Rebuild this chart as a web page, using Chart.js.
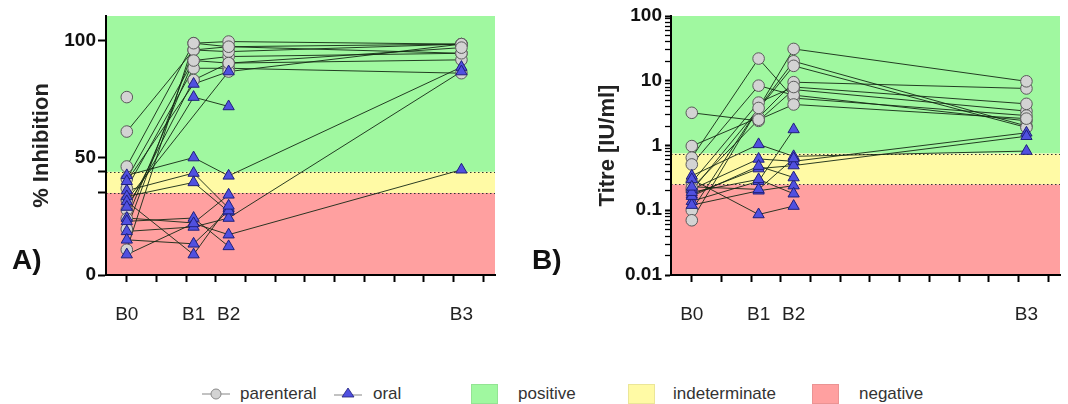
<!DOCTYPE html>
<html>
<head>
<meta charset="utf-8">
<script src="https://cdn.jsdelivr.net/npm/chart.js@4.4.1/dist/chart.umd.min.js"></script>
<style>
  body { margin: 0; background: #fff; font-family: "Liberation Sans", Arial, sans-serif; }
  #wrap { position: relative; width: 1068px; height: 404px; overflow: hidden; }
  canvas { position: absolute; top: 0; }
  .panel { position: absolute; font-weight: bold; font-size: 28px; color: #111; }
  .leg { position: absolute; top: 383px; font-size: 17px; color: #333; line-height: 22px; }
  .box { position: absolute; top: 384px; width: 27px; height: 20px; box-sizing: border-box; border: 1px solid rgba(0,0,0,0.08); }
  svg { position: absolute; }
</style>
</head>
<body>
<div id="wrap">
  <canvas id="chartA" width="510" height="345" style="left:0"></canvas>
  <canvas id="chartB" width="538" height="345" style="left:530px"></canvas>
  <div class="panel" style="left:12px;top:244px">A)</div>
  <div class="panel" style="left:532px;top:244px">B)</div>

  <svg style="left:202px;top:387px" width="28" height="14"><line x1="0" y1="7" x2="28" y2="7" stroke="#9a9a9a" stroke-width="1.2"/><circle cx="14" cy="7" r="5" fill="#d3d3d3" stroke="#8a8a8a"/></svg>
  <div class="leg" style="left:240px">parenteral</div>
  <svg style="left:334px;top:386px" width="28" height="14"><line x1="0" y1="9" x2="28" y2="9" stroke="#9a9a9a" stroke-width="1.2"/><polygon points="14,2 20,11 8,11" fill="#5050e0" stroke="#20207a" stroke-width="0.8"/></svg>
  <div class="leg" style="left:373px">oral</div>

  <div class="box" style="left:471px;background:#a0f8a0"></div>
  <div class="leg" style="left:518px">positive</div>
  <div class="box" style="left:628px;background:#fffaa5"></div>
  <div class="leg" style="left:673px">indeterminate</div>
  <div class="box" style="left:812px;background:#ffa0a0"></div>
  <div class="leg" style="left:859px">negative</div>
</div>
<script>
// visits and their position on the time axis
const visitNames = ['B0', 'B1', 'B2', 'B3'];
const visitTimes = [0, 2.25, 3.43, 11.27];
const timeTicks = [0, 1, 2, 3, 4, 5, 6, 7, 8, 9, 10, 11, 12];

// A) % inhibition, one row per subject (B0, B1, B2, B3)
const inhibitionParenteral = [
  [61.2, 96.0, 97.4, 98.5],
  [75.9, null, null, null],
  [46.3, 98.9, 99.6, 98.5],
  [41.0, 91.5, 93.2, 94.6],
  [37.0, 88.2, 88.2, 86.1],
  [27.8, 83.2, 90.4, 91.8],
  [19.6, 96.0, 95.3, 98.5],
  [10.8, 98.9, 97.4, 94.6],
  [32.0, null, 86.8, 98.5],
  [24.0, 91.5, 90.4, 97.0]
];
const inhibitionOral = [
  [42.5, 50.1, 42.3, 88.7],
  [36.0, 43.5, 28.5, null],
  [33.5, 39.5, 27.0, null],
  [24.3, 22.2, 34.2, null],
  [22.9, 24.3, 12.2, null],
  [18.6, 20.5, 24.3, 86.8],
  [15.0, 13.3, 27.5, null],
  [31.4, 8.7, 29.5, null],
  [8.7, 22.0, 17.2, 44.9],
  [40.0, 81.5, 86.8, null],
  [29.0, 75.9, 71.9, null]
];
const inhibitionTicks = [0, 35, 44, 50, 100];
const inhibitionLabels = [0, 50, 100];
const inhibitionCutoffs = [35, 44];

// B) titre in IU/ml
const titreParenteral = [
  [3.2, 2.4, 7.3, 3.4],
  [0.98, 2.7, 9.5, 7.6],
  [0.65, 22, 5.4, 2.9],
  [0.51, 8.4, 6.0, 2.4],
  [0.27, 4.6, 8.0, 4.4],
  [0.10, 3.8, 20, 2.0],
  [0.07, null, 31, 9.8],
  [0.20, null, 17, 1.9],
  [0.22, 2.5, 4.3, 2.6]
];
const titreOral = [
  [0.34, 1.04, 0.68, 0.82],
  [0.21, 0.62, 0.57, 1.57],
  [0.175, 0.44, 0.49, 1.39],
  [0.138, 0.28, 1.77, null],
  [0.12, 0.20, 0.24, null],
  [0.30, 0.086, 0.116, null],
  [0.165, 0.48, 0.32, null],
  [0.19, 0.30, 0.18, null],
  [0.23, 0.21, 0.63, null]
];
const titreDecades = [0.01, 0.1, 1, 10, 100];
const titreCutoffs = [0.25, 0.75];

const GREEN = '#a0f8a0', YELLOW = '#fffaa5', RED = '#ffa0a0';
const FONT = '"Liberation Sans", Arial, sans-serif';

const toPoints = row => row
  .map((v, i) => v == null ? null : { x: visitTimes[i], y: v })
  .filter(p => p);

// coloured result bands + dotted cut-off lines
const bandsPlugin = {
  id: 'bands',
  beforeDraw(chart, args, opts) {
    const { ctx, chartArea: a, scales: { y } } = chart;
    const yLo = y.getPixelForValue(opts.cutoffs[0]);
    const yHi = y.getPixelForValue(opts.cutoffs[1]);
    ctx.save();
    ctx.fillStyle = GREEN;
    ctx.fillRect(a.left, a.top, a.width, yHi - a.top);
    ctx.fillStyle = YELLOW;
    ctx.fillRect(a.left, yHi, a.width, yLo - yHi);
    ctx.fillStyle = RED;
    ctx.fillRect(a.left, yLo, a.width, a.bottom - yLo);
    ctx.strokeStyle = '#333';
    ctx.lineWidth = 1;
    ctx.setLineDash([1.5, 2.5]);
    [yHi, yLo].forEach(py => {
      ctx.beginPath();
      ctx.moveTo(a.left, Math.round(py) + 0.5);
      ctx.lineTo(a.right, Math.round(py) + 0.5);
      ctx.stroke();
    });
    ctx.restore();
  }
};

function makeDatasets(parenteral, oral) {
  const lines = parenteral.concat(oral).map(row => ({
    data: toPoints(row),
    showLine: true,
    borderColor: 'rgba(20,40,20,0.9)',
    borderWidth: 1,
    pointRadius: 0,
    order: 3
  }));
  lines.push({
    data: parenteral.flatMap(toPoints),
    pointStyle: 'circle',
    pointRadius: 5.8,
    backgroundColor: '#d3d3d3',
    borderColor: '#5a5a5a',
    borderWidth: 1,
    order: 2
  });
  lines.push({
    data: oral.flatMap(toPoints),
    pointStyle: 'triangle',
    pointRadius: 6.5,
    backgroundColor: '#5050e0',
    borderColor: '#20207a',
    borderWidth: 1,
    order: 1
  });
  return lines;
}

function xScales(bottomHeight) {
  return {
    x: {
      type: 'linear', position: 'bottom', weight: 0,
      min: -0.7, max: 12.4,
      afterBuildTicks: s => { s.ticks = timeTicks.map(v => ({ value: v })); },
      afterFit: s => { s.height = 7; },
      border: { display: true, color: '#000', width: 2 },
      grid: { drawOnChartArea: false, drawTicks: true, tickLength: 7, tickColor: '#000', tickWidth: 2 },
      ticks: { display: false }
    },
    xb: {
      type: 'linear', position: 'bottom', weight: 1,
      min: -0.7, max: 12.4,
      afterBuildTicks: s => { s.ticks = visitTimes.map(v => ({ value: v })); },
      afterFit: s => { s.height = bottomHeight; },
      border: { display: false },
      grid: { display: false, drawTicks: false },
      ticks: {
        autoSkip: false, maxRotation: 0, padding: 21, color: '#222',
        font: { family: FONT, size: 19 },
        callback: v => visitNames[visitTimes.indexOf(v)]
      }
    }
  };
}

function yTitle(text, pad) {
  return {
    display: true, text, color: '#222',
    font: { family: FONT, size: 22, weight: 'bold' },
    padding: { top: pad, bottom: 0 }
  };
}

const common = {
  responsive: false,
  animation: false,
  events: [],
  plugins: { legend: { display: false }, tooltip: { enabled: false } }
};

new Chart(document.getElementById('chartA'), {
  type: 'scatter',
  data: { datasets: makeDatasets(inhibitionParenteral, inhibitionOral) },
  options: {
    ...common,
    layout: { padding: { top: 16, right: 15, left: 0, bottom: 0 } },
    plugins: { ...common.plugins, bands: { cutoffs: inhibitionCutoffs } },
    scales: {
      ...xScales(345 - 275 - 7),
      y: {
        type: 'linear', min: 0, max: 110.5,
        afterBuildTicks: s => { s.ticks = inhibitionTicks.map(v => ({ value: v })); },
        afterFit: s => { s.width = 106; },
        border: { display: true, color: '#000', width: 2 },
        grid: { drawOnChartArea: false, tickLength: 8, tickColor: '#000', tickWidth: 2 },
        ticks: {
          padding: 2, color: '#111', autoSkip: false,
          font: { family: FONT, size: 19, weight: 'bold' },
          callback: v => inhibitionLabels.includes(v) ? String(v) : ''
        },
        title: yTitle('% Inhibition', 29)
      }
    }
  },
  plugins: [bandsPlugin]
});

new Chart(document.getElementById('chartB'), {
  type: 'scatter',
  data: { datasets: makeDatasets(titreParenteral, titreOral) },
  options: {
    ...common,
    layout: { padding: { top: 16, right: 8, left: 0, bottom: 0 } },
    plugins: { ...common.plugins, bands: { cutoffs: titreCutoffs } },
    scales: {
      ...xScales(345 - 275 - 7),
      y: {
        type: 'logarithmic', min: 0.01, max: 100,
        afterBuildTicks: s => {
          s.ticks = titreDecades.flatMap((d, i) =>
            i === titreDecades.length - 1 ? [{ value: d }] :
            [1, 2, 3, 4, 5, 6, 7, 8, 9].map(m => ({ value: +(m * d).toPrecision(3) })));
        },
        afterFit: s => { s.width = 141; },
        border: { display: true, color: '#000', width: 2 },
        grid: {
          drawOnChartArea: false, tickLength: 6, tickColor: '#000',
          tickWidth: c => titreDecades.includes(c.tick && c.tick.value) ? 2 : 1.3
        },
        ticks: {
          padding: 3, color: '#111', autoSkip: false,
          font: { family: FONT, size: 19, weight: 'bold' },
          callback: v => titreDecades.includes(v) ? String(v) : ''
        },
        title: yTitle('Titre [IU/ml]', 65)
      }
    }
  },
  plugins: [bandsPlugin]
});
</script>
</body>
</html>
